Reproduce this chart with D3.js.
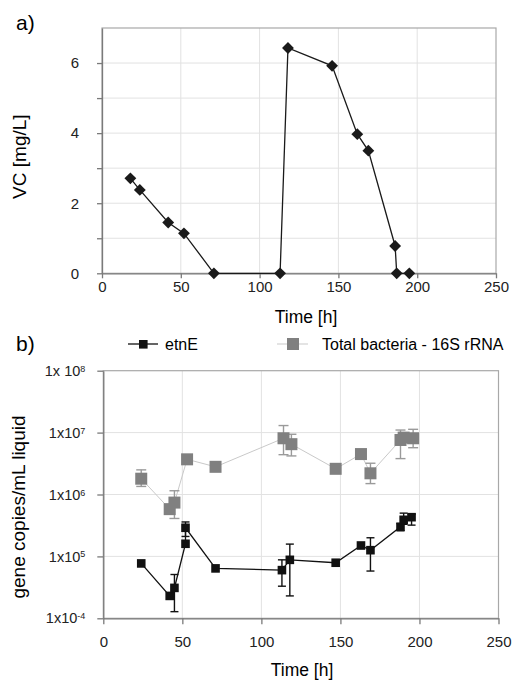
<!DOCTYPE html>
<html>
<head>
<meta charset="utf-8">
<script src="https://cdn.jsdelivr.net/npm/d3@7"></script>
<style>
	body { margin: 0; background: #fff; }
	svg { display: block; font-family: 'Liberation Sans', Arial, sans-serif; }
</style>
</head>
<body>
<div id="chart"></div>
<script>

// a) VC concentration over time
const vcTime = [18, 24, 42, 52, 71, 113, 118, 146, 162, 169, 186, 187, 195];
const vcConc = [2.71, 2.38, 1.45, 1.14, 0, 0, 6.43, 5.92, 3.97, 3.50, 0.78, 0, 0];

// b) etnE gene copies (null = no error bar)
const etnTime  = [24, 42, 45, 52, 52, 71, 113, 118, 147, 163, 169, 188, 190, 195];
const etnValue = [7.7e4, 2.3e4, 3.1e4, 1.6e5, 2.9e5, 6.4e4, 6.0e4, 8.8e4, 7.9e4, 1.5e5, 1.26e5, 3.0e5, 3.9e5, 4.3e5];
const etnLow   = [null, null, 1.28e4, null, 2.1e5, null, 3.3e4, 2.3e4, null, null, 5.8e4, 2.6e5, 3.3e5, 3.2e5];
const etnHigh  = [null, null, 5.1e4, null, 3.6e5, null, 8.8e4, 1.58e5, null, null, 2.0e5, 3.4e5, 5.0e5, 4.8e5];

// b) total bacteria 16S rRNA
const totTime  = [24, 42, 45, 53, 71, 114, 119, 147, 163, 169, 188, 190, 196];
const totValue = [1.8e6, 5.8e5, 7.4e5, 3.7e6, 2.8e6, 8.1e6, 6.5e6, 2.6e6, 4.5e6, 2.2e6, 7.6e6, 8.3e6, 8.1e6];
const totLow   = [1.35e6, null, 4.1e5, null, null, 4.4e6, 4.2e6, null, null, 1.5e6, 3.8e6, null, 5.7e6];
const totHigh  = [2.5e6, null, 1.15e6, null, null, 1.3e7, 9.4e6, null, null, 3.2e6, 1.1e7, null, 1.13e7];

const timeTicks = [0, 50, 100, 150, 200, 250];
const logTicks = [1e4, 1e5, 1e6, 1e7, 1e8];
const logTickBase = ['1x10', '1x10', '1x10', '1x10', '1x 10'];
const logTickExp = ['-4', '5', '6', '7', '8'];

const seriesNames = ['etnE', 'Total bacteria - 16S rRNA'];

const FONT = "'Liberation Sans', Arial, sans-serif";

class TwoPanelChart {

	constructor(element) {
		this.element = element;
		this.width = 513;
		this.height = 681;
		this.svg = d3.select(element)
			.append('svg')
				.attr('width', this.width)
				.attr('height', this.height);
		this.drawPanelA();
		this.drawPanelB();
	}

	frame(x, y, xTicks, yTicks) {
		const g = this.svg.append('g');
		g.selectAll('.vgrid')
			.data(xTicks)
			.join('line')
				.attr('x1', d => x(d)).attr('x2', d => x(d))
				.attr('y1', y.range()[0]).attr('y2', y.range()[1])
				.attr('stroke', '#e2e2e2');
		g.selectAll('.hgrid')
			.data(yTicks)
			.join('line')
				.attr('x1', x.range()[0]).attr('x2', x.range()[1])
				.attr('y1', d => y(d)).attr('y2', d => y(d))
				.attr('stroke', '#e2e2e2');
		g.append('rect')
			.attr('x', x.range()[0])
			.attr('y', y.range()[1])
			.attr('width', x.range()[1] - x.range()[0])
			.attr('height', y.range()[0] - y.range()[1])
			.attr('fill', 'none')
			.attr('stroke', '#a8a8a8')
			.attr('stroke-width', 1.2);
	}

	styleAxis(g, size) {
		g.attr('font-family', FONT);
		g.selectAll('path, line').attr('stroke', '#7a7a7a').attr('stroke-width', 1.3);
		g.selectAll('text').attr('fill', '#222').style('font-size', size + 'px');
	}

	drawPanelA() {
		const x = d3.scaleLinear().domain([0, 250]).range([102, 496]);
		const y = d3.scaleLinear().domain([0, 7]).range([273.3, 28]);

		this.frame(x, y, [50, 100, 150, 200], [1, 2, 3, 4, 5, 6]);

		const xAxis = d3.axisBottom(x)
			.tickValues(timeTicks)
			.tickSize(5)
			.tickPadding(3)
			.tickSizeOuter(0);
		this.svg.append('g')
			.attr('transform', `translate(0, ${y(0)})`)
			.call(xAxis)
			.call(g => this.styleAxis(g, 15));

		const yAxis = d3.axisLeft(y)
			.tickValues([0, 1, 2, 3, 4, 5, 6])
			.tickFormat(d => d % 2 === 0 ? d : '')
			.tickSize(5)
			.tickPadding(18)
			.tickSizeOuter(0);
		this.svg.append('g')
			.attr('transform', `translate(${x(0)}, 0)`)
			.call(yAxis)
			.call(g => this.styleAxis(g, 15));

		const pts = vcTime.map((t, i) => [t, vcConc[i]]);

		this.svg.append('path')
			.datum(pts)
			.attr('fill', 'none')
			.attr('stroke', '#1a1a1a')
			.attr('stroke-width', 1.3)
			.attr('d', d3.line().x(d => x(d[0])).y(d => y(d[1])));

		this.svg.selectAll('.diamond')
			.data(pts)
			.join('path')
				.attr('transform', d => `translate(${x(d[0])}, ${y(d[1])}) rotate(45)`)
				.attr('d', d3.symbol(d3.symbolSquare, 70))
				.attr('fill', '#1a1a1a');

		this.svg.append('text')
			.attr('x', 16).attr('y', 30)
			.style('font-size', '21px')
			.text('a)');

		this.svg.append('text')
			.attr('transform', `translate(26, ${(y(0) + y(7)) / 2 + 6}) rotate(-90)`)
			.attr('text-anchor', 'middle')
			.style('font-size', '19px')
			.text('VC [mg/L]');

		this.svg.append('text')
			.attr('x', 306).attr('y', 323)
			.attr('text-anchor', 'middle')
			.style('font-size', '17.5px')
			.text('Time [h]');
	}

	drawPanelB() {
		const x = d3.scaleLinear().domain([0, 250]).range([103.3, 498.5]);
		const y = d3.scaleLog().domain([1e4, 1e8]).range([618.3, 370.7]);

		this.frame(x, y, [50, 100, 150, 200], [1e5, 1e6, 1e7]);

		const xAxis = d3.axisBottom(x)
			.tickValues(timeTicks)
			.tickSize(6)
			.tickPadding(12)
			.tickSizeOuter(0);
		this.svg.append('g')
			.attr('transform', `translate(0, ${y(1e4)})`)
			.call(xAxis)
			.call(g => this.styleAxis(g, 15));

		const yAxis = d3.axisLeft(y)
			.tickValues(logTicks)
			.tickFormat(() => '')
			.tickSize(6)
			.tickSizeOuter(0);
		const yg = this.svg.append('g')
			.attr('transform', `translate(${x(0)}, 0)`)
			.call(yAxis)
			.call(g => this.styleAxis(g, 14.5));

		yg.selectAll('.tick text')
			.attr('x', -18)
			.each(function(d, i) {
				const t = d3.select(this);
				t.append('tspan').text(logTickBase[i]);
				t.append('tspan')
					.attr('dy', '-0.45em')
					.style('font-size', '9px')
					.text(logTickExp[i]);
			});

		// total bacteria, grey
		const tot = totTime.map((t, i) => ({t, v: totValue[i], lo: totLow[i], hi: totHigh[i]}));
		this.svg.append('path')
			.datum(tot)
			.attr('fill', 'none')
			.attr('stroke', '#c9c9c9')
			.attr('stroke-width', 1)
			.attr('d', d3.line().x(d => x(d.t)).y(d => y(d.v)));
		this.errorBars(tot.filter(d => d.lo !== null), x, y, '#9a9a9a', 5, 1.4);
		this.svg.selectAll('.totSq')
			.data(tot)
			.join('rect')
				.attr('x', d => x(d.t) - 6)
				.attr('y', d => y(d.v) - 6)
				.attr('width', 12).attr('height', 12)
				.attr('fill', '#808080');

		// etnE, black
		const etn = etnTime.map((t, i) => ({t, v: etnValue[i], lo: etnLow[i], hi: etnHigh[i]}));
		this.svg.append('path')
			.datum(etn)
			.attr('fill', 'none')
			.attr('stroke', '#111')
			.attr('stroke-width', 1.3)
			.attr('d', d3.line().x(d => x(d.t)).y(d => y(d.v)));
		this.errorBars(etn.filter(d => d.lo !== null), x, y, '#111', 4, 1.4);
		this.svg.selectAll('.etnSq')
			.data(etn)
			.join('rect')
				.attr('x', d => x(d.t) - 4.3)
				.attr('y', d => y(d.v) - 4.3)
				.attr('width', 8.6).attr('height', 8.6)
				.attr('fill', '#111');

		// legend
		const lg = this.svg.append('g');
		lg.append('line').attr('x1', 128).attr('x2', 158).attr('y1', 344).attr('y2', 344)
			.attr('stroke', '#111').attr('stroke-width', 1.3);
		lg.append('rect').attr('x', 139).attr('y', 340).attr('width', 8.6).attr('height', 8.6).attr('fill', '#111');
		lg.append('text').attr('x', 165).attr('y', 350).style('font-size', '16px').text(seriesNames[0]);
		lg.append('line').attr('x1', 277).attr('x2', 308).attr('y1', 344).attr('y2', 344)
			.attr('stroke', '#c9c9c9').attr('stroke-width', 1);
		lg.append('rect').attr('x', 287).attr('y', 338).attr('width', 12).attr('height', 12).attr('fill', '#808080');
		lg.append('text').attr('x', 322).attr('y', 350).style('font-size', '16px').text(seriesNames[1]);

		this.svg.append('text')
			.attr('x', 16).attr('y', 351)
			.style('font-size', '21px')
			.text('b)');

		this.svg.append('text')
			.attr('transform', `translate(25, 507) rotate(-90)`)
			.attr('text-anchor', 'middle')
			.style('font-size', '19px')
			.text('gene copies/mL liquid');

		this.svg.append('text')
			.attr('x', 302).attr('y', 676)
			.attr('text-anchor', 'middle')
			.style('font-size', '17.5px')
			.text('Time [h]');
	}

	errorBars(data, x, y, color, cap, w) {
		const g = this.svg.append('g')
			.attr('stroke', color)
			.attr('stroke-width', w);
		data.forEach(d => {
			const cx = x(d.t);
			g.append('line').attr('x1', cx).attr('x2', cx).attr('y1', y(d.lo)).attr('y2', y(d.hi));
			g.append('line').attr('x1', cx - cap).attr('x2', cx + cap).attr('y1', y(d.lo)).attr('y2', y(d.lo));
			g.append('line').attr('x1', cx - cap).attr('x2', cx + cap).attr('y1', y(d.hi)).attr('y2', y(d.hi));
		});
	}

}

new TwoPanelChart('#chart');

</script>
</body>
</html>
